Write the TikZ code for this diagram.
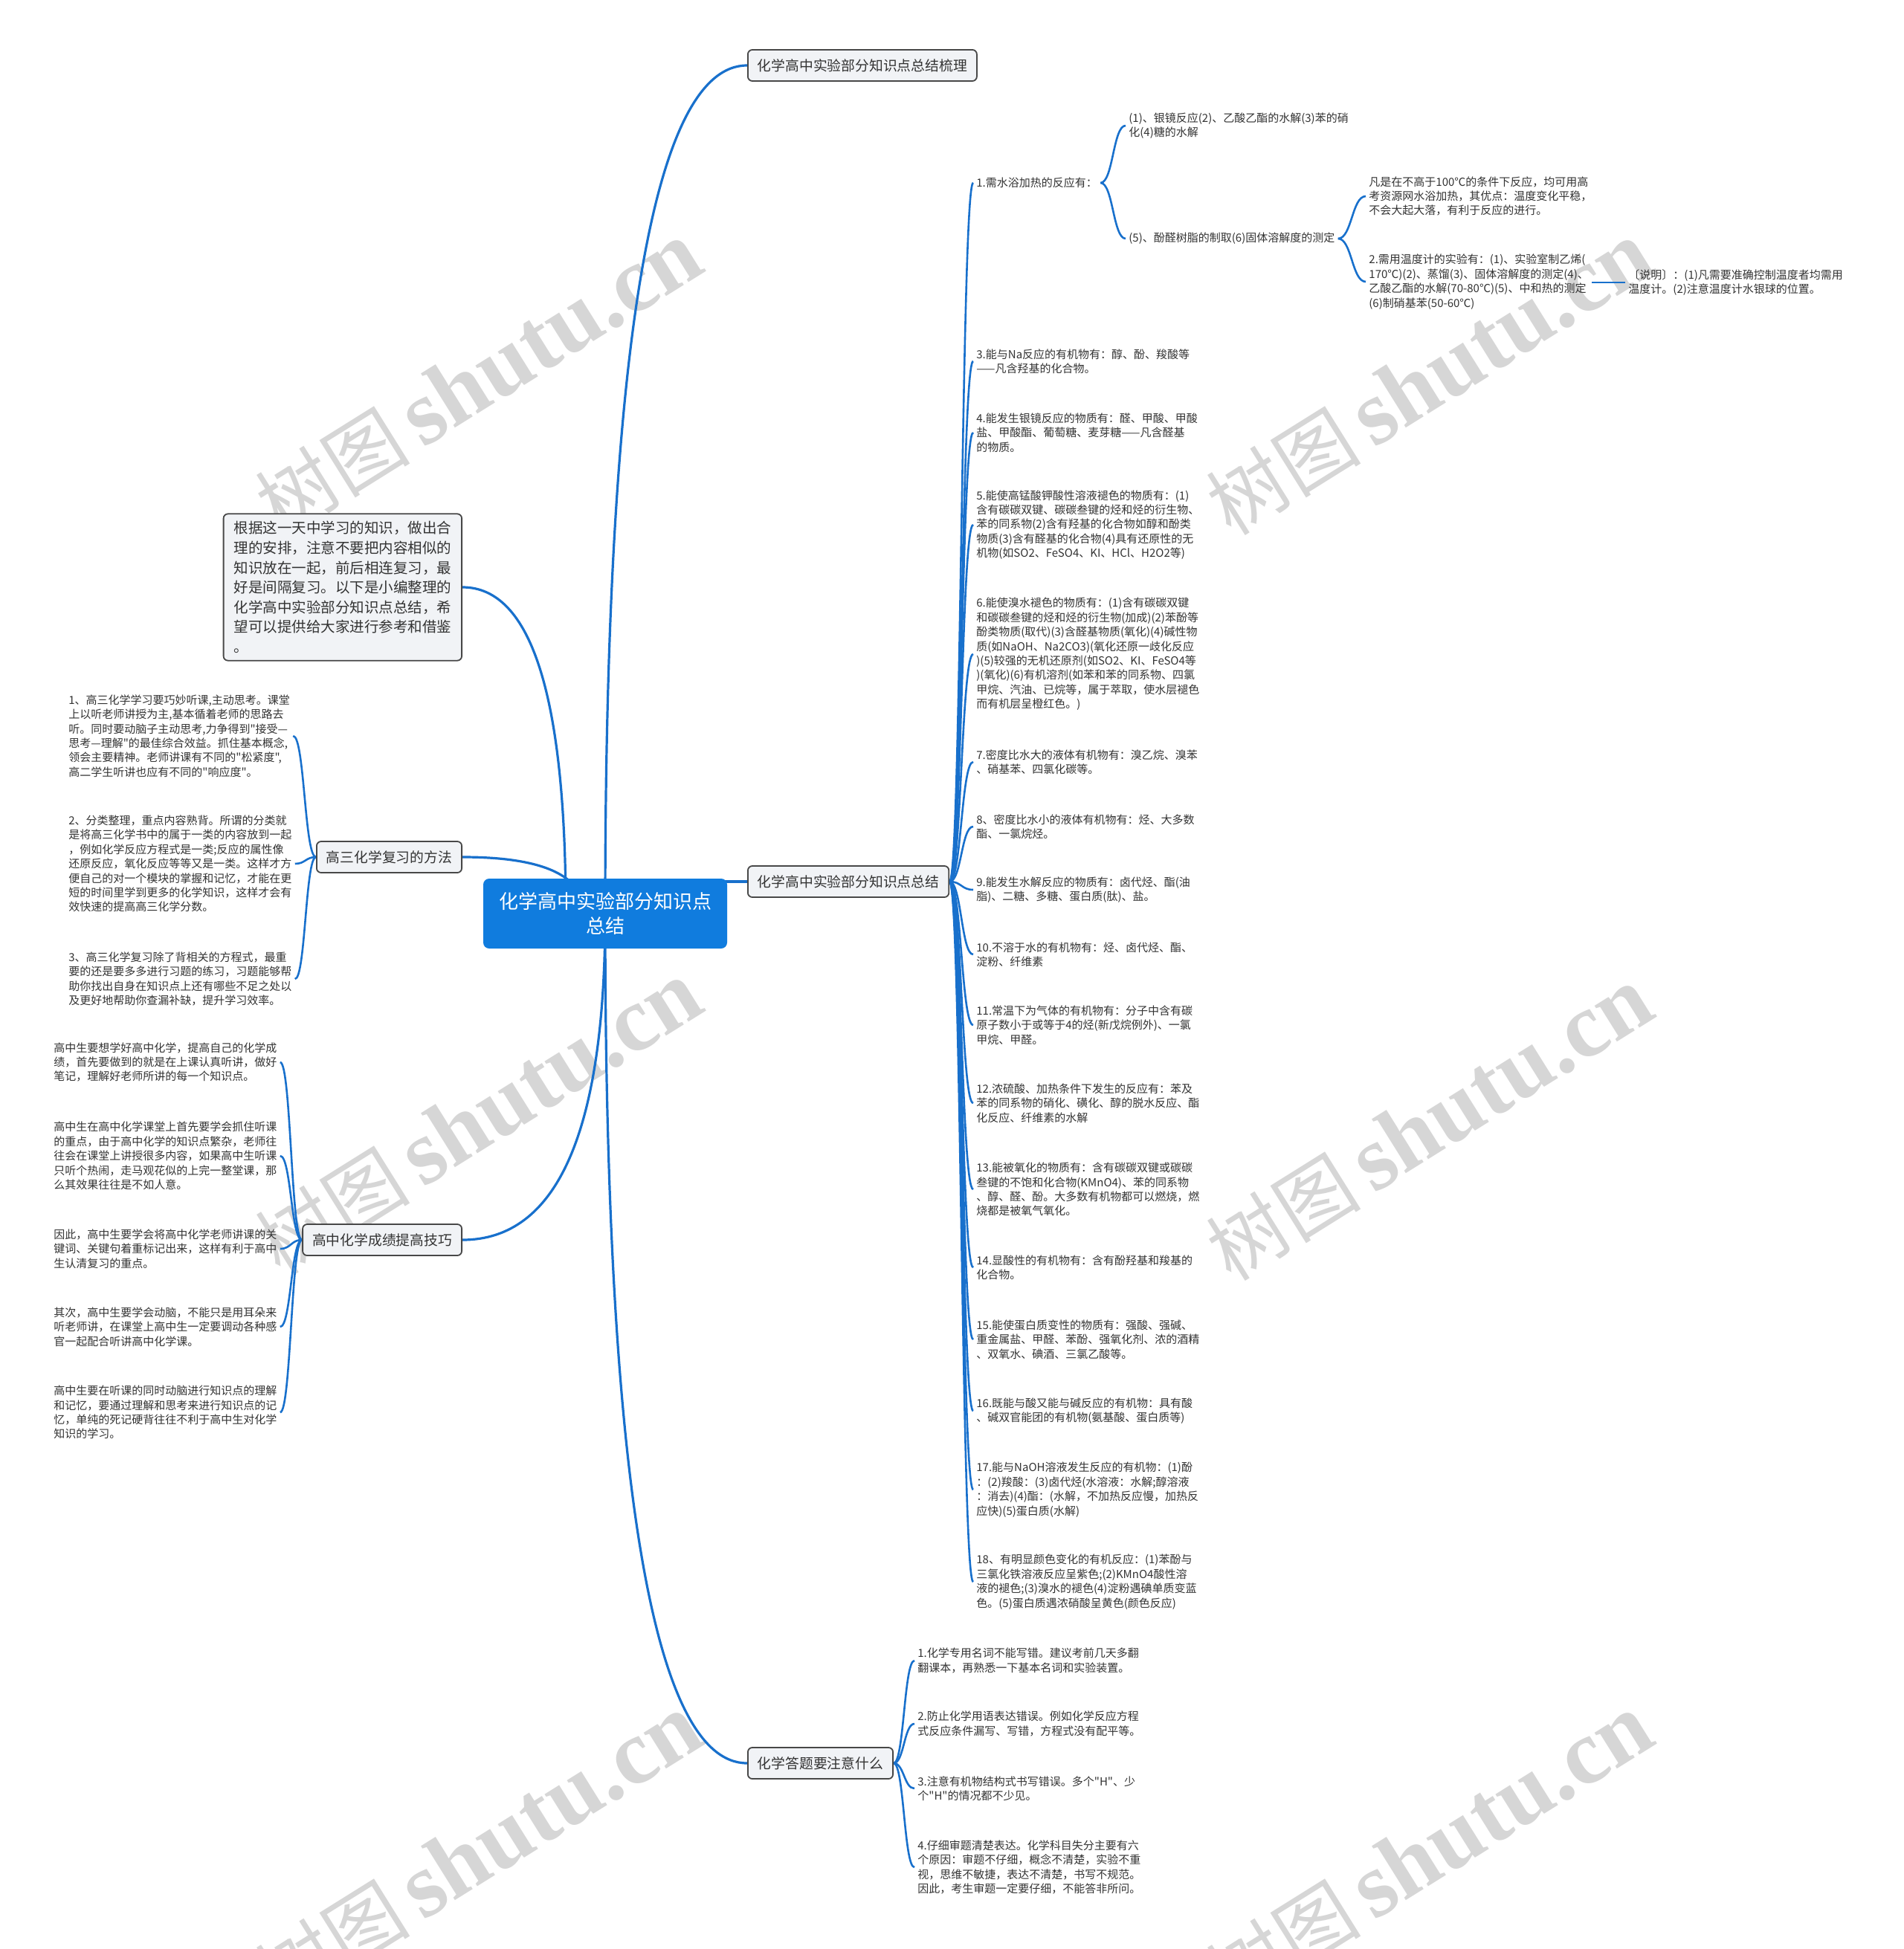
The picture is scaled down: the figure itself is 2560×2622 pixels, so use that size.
\documentclass[tikz,border=0pt]{standalone}
\usepackage{fontspec}
\setmainfont{Noto Sans CJK SC}[Ligatures=TeXOff]
\newfontfamily\wmserif{Liberation Serif}
\usetikzlibrary{calc}
\definecolor{connc}{RGB}{24,112,204}
\definecolor{rootc}{RGB}{16,124,222}
\definecolor{labfill}{RGB}{241,243,246}
\definecolor{labdraw}{RGB}{72,72,72}
\definecolor{txt}{RGB}{51,51,51}
\definecolor{wmc}{RGB}{214,214,214}
\pgfdeclarelayer{bg}
\pgfsetlayers{bg,main}
\newcommand\smallfont{\fontsize{7.5pt}{9.7pt}\selectfont}
\newcommand\myconn[2]{\draw[connthin] let \p1=(#1), \p2=(#2) in (\p1) .. controls ({0.5*\x1+0.5*\x2},\y1) and ({0.5*\x1+0.5*\x2},\y2) .. (\p2);}
\newcommand\myquad[3]{\draw[conn] (#1) .. controls ($(#1)!0.6667!(#3)$) and ($(#2)!0.6667!(#3)$) .. (#2);}
\tikzset{
  conn/.style={draw=connc, line width=1.6pt},
  connthin/.style={draw=connc, line width=1.3pt},
  lab/.style={draw=labdraw, fill=labfill, line width=0.9pt, rounded corners=3pt,
    font=\fontsize{9.4pt}{11pt}\selectfont, text=txt, inner xsep=6.5pt, inner ysep=0pt, minimum height=21pt},
  introbox/.style={draw=labdraw, fill=labfill, line width=0.9pt, rounded corners=3pt,
    font=\fontsize{9.75pt}{13.3pt}\selectfont, text=txt, align=left, inner xsep=7pt, inner ysep=5pt},
  rootn/.style={fill=rootc, rounded corners=4pt, text=white, align=center,
    font=\fontsize{13pt}{16.5pt}\selectfont, minimum width=164pt, minimum height=47pt},
  itm/.style={font=\smallfont, text=txt, align=left, inner xsep=2pt, inner ysep=0pt, anchor=west},
  wm/.style={text=wmc, rotate=32, inner sep=0pt}
}
\newcommand\wmtext{{\fontsize{52pt}{52pt}\selectfont 树图\,}{\wmserif\bfseries\fontsize{62pt}{62pt}\selectfont shutu.cn}}
\begin{document}
\begin{tikzpicture}[x=0.5pt,y=-0.5pt]
\useasboundingbox (0,0) rectangle (2560,2622);
\begin{pgfonlayer}{bg}
\fill[white] (0,0) rectangle (2560,2622);
\node[wm] (w1) at (644,510) {\wmtext};
\node[wm] (w2) at (1923,510) {\wmtext};
\node[wm] (w3) at (644,1505) {\wmtext};
\node[wm] (w4) at (1923,1513) {\wmtext};
\node[wm] (w5) at (644,2491) {\wmtext};
\node[wm] (w6) at (1923,2491) {\wmtext};
\end{pgfonlayer}

% main topics
\node[rootn] (root) at (814,1229) {化学高中实验部分知识点\\总结};
\node[lab, anchor=west] (top) at (1005,88) {化学高中实验部分知识点总结梳理};
\node[lab, anchor=west] (k) at (1005,1186) {化学高中实验部分知识点总结};
\node[lab, anchor=west] (kq) at (1005,2372) {化学答题要注意什么};
\node[lab, anchor=east] (lab3) at (622,1153) {高三化学复习的方法};
\node[lab, anchor=east] (lab4) at (622,1668) {高中化学成绩提高技巧};
\node[introbox, anchor=east] (intro) at (622,790) {根据这一天中学习的知识，做出合\\理的安排，注意不要把内容相似的\\知识放在一起，前后相连复习，最\\好是间隔复习。以下是小编整理的\\化学高中实验部分知识点总结，希\\望可以提供给大家进行参考和借鉴\\。};
\coordinate (rc) at (814,1229);
\coordinate (ci) at (761,1229);
\coordinate (c3) at (786,1229);

% right column
\node[itm] (i1) at (1309,246) {1.需水浴加热的反应有：};
\node[itm] (c1a) at (1514,169) {(1)、银镜反应(2)、乙酸乙酯的水解(3)苯的硝\\化(4)糖的水解};
\node[itm] (c1b) at (1514,321) {(5)、酚醛树脂的制取(6)固体溶解度的测定};
\node[itm] (c1b1) at (1837,264) {凡是在不高于100℃的条件下反应，均可用高\\考资源网水浴加热，其优点：温度变化平稳，\\不会大起大落，有利于反应的进行。};
\node[itm] (c1b2) at (1837,379) {2.需用温度计的实验有：(1)、实验室制乙烯(\\170℃)(2)、蒸馏(3)、固体溶解度的测定(4)、\\乙酸乙酯的水解(70-80℃)(5)、中和热的测定\\(6)制硝基苯(50-60℃)};
\node[itm] (c1b2a) at (2186,380) {〔说明〕：(1)凡需要准确控制温度者均需用\\温度计。(2)注意温度计水银球的位置。};
\node[itm] (i3) at (1309,486) {3.能与Na反应的有机物有：醇、酚、羧酸等\\——凡含羟基的化合物。};
\node[itm] (i4) at (1309,582) {4.能发生银镜反应的物质有：醛、甲酸、甲酸\\盐、甲酸酯、葡萄糖、麦芽糖——凡含醛基\\的物质。};
\node[itm] (i5) at (1309,706) {5.能使高锰酸钾酸性溶液褪色的物质有：(1)\\含有碳碳双键、碳碳叁键的烃和烃的衍生物、\\苯的同系物(2)含有羟基的化合物如醇和酚类\\物质(3)含有醛基的化合物(4)具有还原性的无\\机物(如SO2、FeSO4、KI、HCl、H2O2等)};
\node[itm] (i6) at (1309,880) {6.能使溴水褪色的物质有：(1)含有碳碳双键\\和碳碳叁键的烃和烃的衍生物(加成)(2)苯酚等\\酚类物质(取代)(3)含醛基物质(氧化)(4)碱性物\\质(如NaOH、Na2CO3)(氧化还原一歧化反应\\)(5)较强的无机还原剂(如SO2、KI、FeSO4等\\)(氧化)(6)有机溶剂(如苯和苯的同系物、四氯\\甲烷、汽油、已烷等，属于萃取，使水层褪色\\而有机层呈橙红色。)};
\node[itm] (i7) at (1309,1025) {7.密度比水大的液体有机物有：溴乙烷、溴苯\\、硝基苯、四氯化碳等。};
\node[itm] (i8) at (1309,1112) {8、密度比水小的液体有机物有：烃、大多数\\酯、一氯烷烃。};
\node[itm] (i9) at (1309,1197) {9.能发生水解反应的物质有：卤代烃、酯(油\\脂)、二糖、多糖、蛋白质(肽)、盐。};
\node[itm] (i10) at (1309,1284) {10.不溶于水的有机物有：烃、卤代烃、酯、\\淀粉、纤维素};
\node[itm] (i11) at (1309,1379) {11.常温下为气体的有机物有：分子中含有碳\\原子数小于或等于4的烃(新戊烷例外)、一氯\\甲烷、甲醛。};
\node[itm] (i12) at (1309,1484) {12.浓硫酸、加热条件下发生的反应有：苯及\\苯的同系物的硝化、磺化、醇的脱水反应、酯\\化反应、纤维素的水解};
\node[itm] (i13) at (1309,1600) {13.能被氧化的物质有：含有碳碳双键或碳碳\\叁键的不饱和化合物(KMnO4)、苯的同系物\\、醇、醛、酚。大多数有机物都可以燃烧，燃\\烧都是被氧气氧化。};
\node[itm] (i14) at (1309,1705) {14.显酸性的有机物有：含有酚羟基和羧基的\\化合物。};
\node[itm] (i15) at (1309,1802) {15.能使蛋白质变性的物质有：强酸、强碱、\\重金属盐、甲醛、苯酚、强氧化剂、浓的酒精\\、双氧水、碘酒、三氯乙酸等。};
\node[itm] (i16) at (1309,1898) {16.既能与酸又能与碱反应的有机物：具有酸\\、碱双官能团的有机物(氨基酸、蛋白质等)};
\node[itm] (i17) at (1309,2004) {17.能与NaOH溶液发生反应的有机物：(1)酚\\：(2)羧酸：(3)卤代烃(水溶液：水解;醇溶液\\：消去)(4)酯：(水解，不加热反应慢，加热反\\应快)(5)蛋白质(水解)};
\node[itm] (i18) at (1309,2128) {18、有明显颜色变化的有机反应：(1)苯酚与\\三氯化铁溶液反应呈紫色;(2)KMnO4酸性溶\\液的褪色;(3)溴水的褪色(4)淀粉遇碘单质变蓝\\色。(5)蛋白质遇浓硝酸呈黄色(颜色反应)};

% bottom
\node[itm] (b1) at (1230,2234) {1.化学专用名词不能写错。建议考前几天多翻\\翻课本，再熟悉一下基本名词和实验装置。};
\node[itm] (b2) at (1230,2319) {2.防止化学用语表达错误。例如化学反应方程\\式反应条件漏写、写错，方程式没有配平等。};
\node[itm] (b3) at (1230,2406) {3.注意有机物结构式书写错误。多个"H"、少\\个"H"的情况都不少见。};
\node[itm] (b4) at (1230,2512) {4.仔细审题清楚表达。化学科目失分主要有六\\个原因：审题不仔细，概念不清楚，实验不重\\视，思维不敏捷，表达不清楚，书写不规范。\\因此，考生审题一定要仔细，不能答非所问。};

% left
\node[itm] (l1) at (88,990) {1、高三化学学习要巧妙听课,主动思考。课堂\\上以听老师讲授为主,基本循着老师的思路去\\听。同时要动脑子主动思考,力争得到"接受—\\思考—理解"的最佳综合效益。抓住基本概念,\\领会主要精神。老师讲课有不同的"松紧度",\\高二学生听讲也应有不同的"响应度"。};
\node[itm] (l2) at (88,1162) {2、分类整理，重点内容熟背。所谓的分类就\\是将高三化学书中的属于一类的内容放到一起\\，例如化学反应方程式是一类;反应的属性像\\还原反应，氧化反应等等又是一类。这样才方\\便自己的对一个模块的掌握和记忆，才能在更\\短的时间里学到更多的化学知识，这样才会有\\效快速的提高高三化学分数。};
\node[itm] (l3) at (88,1317) {3、高三化学复习除了背相关的方程式，最重\\要的还是要多多进行习题的练习，习题能够帮\\助你找出自身在知识点上还有哪些不足之处以\\及更好地帮助你查漏补缺，提升学习效率。};
\node[itm] (m1) at (68,1429) {高中生要想学好高中化学，提高自己的化学成\\绩，首先要做到的就是在上课认真听讲，做好\\笔记，理解好老师所讲的每一个知识点。};
\node[itm] (m2) at (68,1555) {高中生在高中化学课堂上首先要学会抓住听课\\的重点，由于高中化学的知识点繁杂，老师往\\往会在课堂上讲授很多内容，如果高中生听课\\只听个热闹，走马观花似的上完一整堂课，那\\么其效果往往是不如人意。};
\node[itm] (m3) at (68,1680) {因此，高中生要学会将高中化学老师讲课的关\\键词、关键句着重标记出来，这样有利于高中\\生认清复习的重点。};
\node[itm] (m4) at (68,1785) {其次，高中生要学会动脑，不能只是用耳朵来\\听老师讲，在课堂上高中生一定要调动各种感\\官一起配合听讲高中化学课。};
\node[itm] (m5) at (68,1900) {高中生要在听课的同时动脑进行知识点的理解\\和记忆，要通过理解和思考来进行知识点的记\\忆，单纯的死记硬背往往不利于高中生对化学\\知识的学习。};

% connectors
\begin{pgfonlayer}{bg}
\myquad{rc}{top.west}{rc |- top.west}
\myquad{rc}{kq.west}{rc |- kq.west}
\draw[conn] (rc |- k.west) -- (k.west);
\myquad{intro.east}{ci}{ci |- intro.east}
\myquad{lab3.east}{c3}{c3 |- lab3.east}
\myquad{lab4.east}{rc}{rc |- lab4.east}
\foreach \q in {i1,i3,i4,i5,i6,i7,i8,i9,i10,i11,i12,i13,i14,i15,i16,i17,i18} {\myconn{k.east}{\q.west}}
\myconn{i1.east}{c1a.west}
\myconn{i1.east}{c1b.west}
\myconn{c1b.east}{c1b1.west}
\myconn{c1b.east}{c1b2.west}
\draw[connthin] (c1b2.east |- c1b2a.west) -- (c1b2a.west);
\foreach \q in {b1,b2,b3,b4} {\myconn{kq.east}{\q.west}}
\foreach \q in {l1,l2,l3} {\myconn{lab3.west}{\q.east}}
\foreach \q in {m1,m2,m3,m4,m5} {\myconn{lab4.west}{\q.east}}
\end{pgfonlayer}
\end{tikzpicture}
\end{document}
